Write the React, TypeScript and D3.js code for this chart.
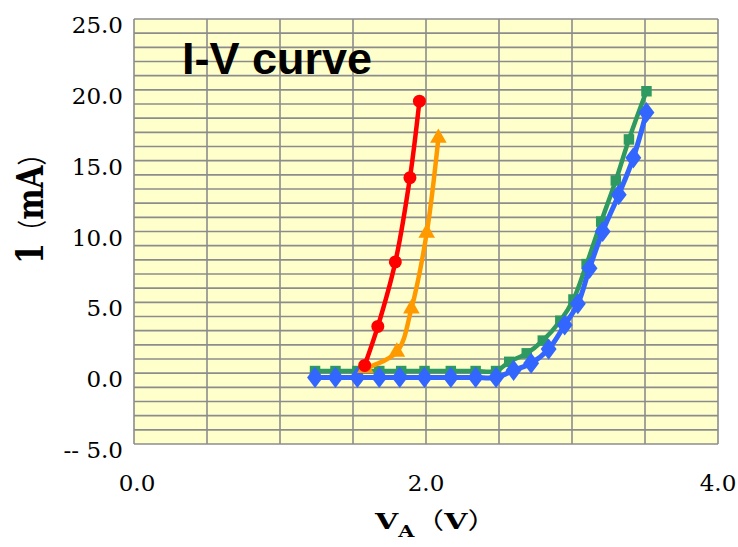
import * as d3 from "d3";

// series: [V (volts), I (mA)]
const redSeries: [number, number][] = [
  [1.58, 0.55], [1.67, 3.3], [1.79, 7.85], [1.89, 13.8], [1.955, 19.2],
];
const orangeSeries: [number, number][] = [
  [1.585, 0.35], [1.8, 1.5], [1.9, 4.55], [2.005, 9.9], [2.085, 16.6],
];
const greenSeries: [number, number][] = [
  [1.24, 0.15], [1.38, 0.15], [1.53, 0.15], [1.68, 0.15], [1.83, 0.15], [1.99, 0.15],
  [2.17, 0.15], [2.34, 0.15], [2.48, 0.15], [2.57, 0.8], [2.69, 1.4], [2.8, 2.3],
  [2.92, 3.7], [3.01, 5.2], [3.1, 7.7], [3.2, 10.7], [3.3, 13.6], [3.39, 16.5], [3.51, 19.9],
];
const blueSeries: [number, number][] = [
  [1.24, -0.3], [1.38, -0.3], [1.53, -0.3], [1.68, -0.3], [1.82, -0.3], [1.99, -0.3],
  [2.17, -0.3], [2.34, -0.3], [2.48, -0.3], [2.6, 0.2], [2.72, 0.7], [2.84, 1.7],
  [2.95, 3.4], [3.04, 4.9], [3.12, 7.4], [3.21, 10.0], [3.32, 12.6], [3.42, 15.2], [3.51, 18.4],
];

const yTicks = [25, 20, 15, 10, 5, 0, -5];
const yTickLabels = ["25.0", "20.0", "15.0", "10.0", "5.0", "0.0", "-- 5.0"];
const xTicks = [0, 2, 4];
const xTickLabels = ["0.0", "2.0", "4.0"];

const W = 738;
const H = 547;
const plot = { left: 134, right: 718, top: 19, bottom: 444 };

const x = d3.scaleLinear().domain([0, 4]).range([plot.left, plot.right]);
const y = d3.scaleLinear().domain([-5, 25]).range([plot.bottom, plot.top]);

const line = d3
  .line<[number, number]>()
  .x((d) => x(d[0]))
  .y((d) => y(d[1]))
  .curve(d3.curveCatmullRom.alpha(0.5));

const serif = "'DejaVu Serif', 'Liberation Serif', serif";
const cjk = "'Noto Sans CJK SC', 'Noto Sans CJK JP', sans-serif";
const grid = "#8c8c8c";

export default function App() {
  const vLines = d3.range(0, 4.0001, 0.5);
  const hLines = d3.range(-5, 25.0001, 1);
  const tri = d3.symbol().type(d3.symbolTriangle).size(120)() || "";
  const sq = d3.symbol().type(d3.symbolSquare).size(110)() || "";
  const dia = d3.symbol().type(d3.symbolDiamond).size(130)() || "";

  return (
    <div style={{ position: "absolute", left: 0, top: 0 }}>
      <svg width={W} height={H} style={{ display: "block", background: "#fff" }}>
        <rect x={plot.left} y={plot.top} width={plot.right - plot.left} height={plot.bottom - plot.top} fill="#ffffcc" />
        {hLines.map((v) => (
          <line key={"h" + v} x1={plot.left} x2={plot.right} y1={y(v)} y2={y(v)} stroke={grid} strokeWidth={1.6} />
        ))}
        {vLines.map((v) => (
          <line key={"v" + v} x1={x(v)} x2={x(v)} y1={plot.top} y2={plot.bottom} stroke={grid} strokeWidth={1.6} />
        ))}

        <text x={182} y={74} fontFamily="'Liberation Sans', Arial, sans-serif" fontWeight="bold" fontSize={45} fill="#000">
          I-V curve
        </text>

        {/* green squares */}
        <path d={line(greenSeries) || ""} fill="none" stroke="#2e9960" strokeWidth={4.5} />
        {greenSeries.map((d, i) => (
          <path key={"g" + i} d={sq} transform={`translate(${x(d[0])},${y(d[1])})`} fill="#2e9960" />
        ))}

        {/* blue diamonds */}
        <path d={line(blueSeries) || ""} fill="none" stroke="#3366ff" strokeWidth={5} />
        {blueSeries.map((d, i) => (
          <path key={"b" + i} d={dia} transform={`translate(${x(d[0])},${y(d[1])}) scale(1.3,1)`} fill="#3366ff" />
        ))}

        {/* orange triangles */}
        <path d={line(orangeSeries) || ""} fill="none" stroke="#ff9900" strokeWidth={4.5} />
        {orangeSeries.map((d, i) => (
          <path key={"o" + i} d={tri} transform={`translate(${x(d[0])},${y(d[1])})`} fill="#ff9900" />
        ))}

        {/* red circles */}
        <path d={line(redSeries) || ""} fill="none" stroke="#ff0000" strokeWidth={4.5} />
        {redSeries.map((d, i) => (
          <circle key={"r" + i} cx={x(d[0])} cy={y(d[1])} r={6.5} fill="#ff0000" />
        ))}

        {yTicks.map((v, i) => (
          <text key={"yt" + v} x={123} y={y(v) + 14} textAnchor="end" fontFamily={serif} fontSize={23} fill="#000">
            {yTickLabels[i]}
          </text>
        ))}
        {xTicks.map((v, i) => (
          <text key={"xt" + v} x={x(v) + (i === 0 ? 3 : 0)} y={491} textAnchor="middle" fontFamily={serif} fontSize={23} fill="#000">
            {xTickLabels[i]}
          </text>
        ))}

        <g transform="translate(43,203) rotate(-90) scale(0.78,1)">
          <text x={0} y={0} textAnchor="middle" fontFamily={serif} fontWeight="bold" fontSize={38} fill="#000">
            <tspan>1</tspan>
            <tspan fontFamily={cjk} fontWeight="normal" fontSize={30}>（</tspan>
            <tspan fontFamily={serif} fontWeight="bold" fontSize={38}>mA</tspan>
            <tspan fontFamily={cjk} fontWeight="normal" fontSize={30}>）</tspan>
          </text>
        </g>

        <g transform="translate(375,529) scale(1.3,1)">
          <text x={0} y={0} fontFamily={serif} fontWeight="bold" fontSize={23} fill="#000">
            <tspan>V</tspan>
            <tspan fontSize={16} dy={8}>A</tspan>
            <tspan fontFamily={cjk} fontWeight="normal" fontSize={23} dy={-8}>（</tspan>
            <tspan fontFamily={serif} fontWeight="bold" fontSize={23}>V</tspan>
            <tspan fontFamily={cjk} fontWeight="normal" fontSize={23}>）</tspan>
          </text>
        </g>
      </svg>
    </div>
  );
}
